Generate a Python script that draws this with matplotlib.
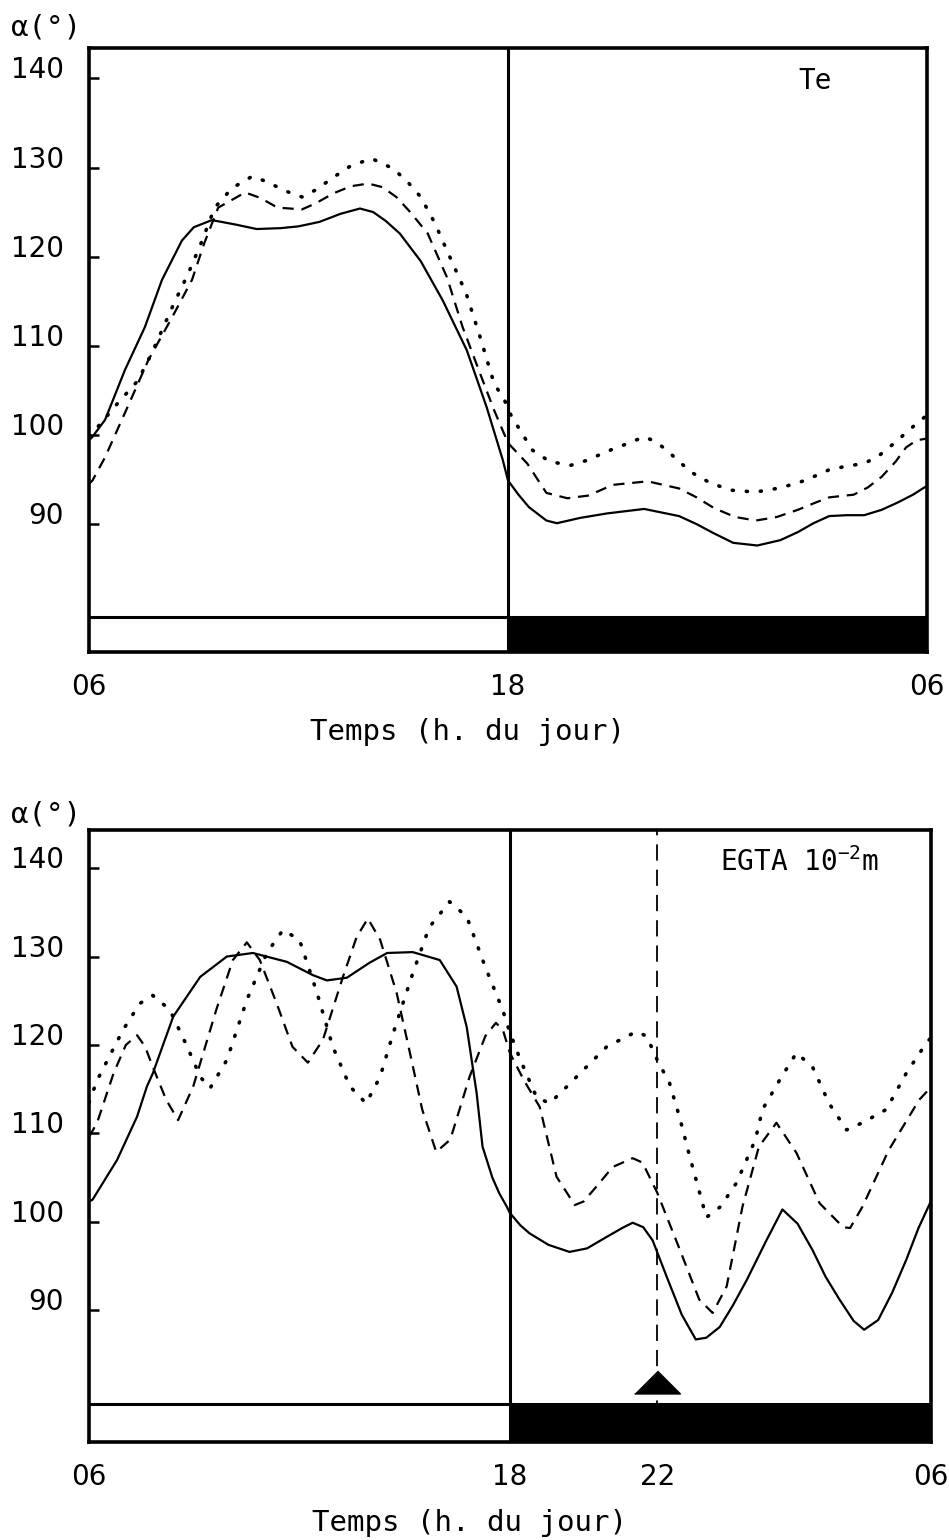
import matplotlib.pyplot as plt

# Panneau du haut : Te  (heures comptées depuis minuit, 06 -> 30 = 06 le lendemain)
te_solid_h = [6.0, 6.1, 6.46, 7.03, 7.6, 8.09, 8.66, 9.0, 9.52, 10.2, 10.8, 11.5, 12.0, 12.6, 13.2,
              13.76, 14.14, 14.5, 14.9, 15.5, 16.13, 16.82, 17.39, 17.85, 18.0, 18.3, 18.6, 19.1,
              19.4, 20.07, 20.84, 21.9, 22.9, 23.4, 23.88, 24.45, 25.14, 25.8, 26.3, 26.75, 27.2,
              27.7, 28.2, 28.7, 29.15, 29.6, 30.0]
te_solid_v = [99.4, 99.8, 101.7, 107.3, 112.1, 117.4, 121.8, 123.3, 124.1, 123.6, 123.1, 123.2,
              123.4, 123.9, 124.8, 125.4, 125.0, 124.0, 122.6, 119.5, 115.1, 109.5, 103.1, 97.2,
              94.9, 93.3, 91.9, 90.4, 90.1, 90.7, 91.2, 91.7, 90.9, 90.0, 89.0, 87.9, 87.6, 88.2,
              89.1, 90.1, 90.9, 91.0, 91.0, 91.6, 92.4, 93.3, 94.3]

te_dash_h = [6.0, 6.1, 6.46, 7.1, 7.7, 8.38, 8.95, 9.3, 9.7, 10.47, 10.9, 11.4, 12.1, 12.5, 13.0,
             13.5, 14.0, 14.4, 14.8, 15.2, 15.7, 16.25, 16.7, 17.2, 17.6, 18.0, 18.55, 19.1, 19.7,
             20.3, 21.0, 22.0, 22.9, 23.4, 23.9, 24.5, 25.1, 25.7, 26.3, 26.8, 27.2, 27.9, 28.3,
             28.7, 29.1, 29.4, 29.7, 30.0]
te_dash_v = [94.5, 94.9, 97.5, 103.1, 108.4, 113.2, 117.4, 121.5, 125.5, 127.2, 126.6, 125.5, 125.3,
             126.0, 127.1, 127.9, 128.2, 127.8, 126.7, 125.0, 122.6, 117.7, 112.1, 106.9, 102.8,
             99.1, 96.8, 93.5, 92.9, 93.2, 94.4, 94.8, 94.0, 93.0, 91.8, 90.8, 90.4, 90.8, 91.6,
             92.4, 93.0, 93.3, 94.1, 95.3, 97.0, 98.6, 99.4, 99.6]

te_dot_h = [6.0, 6.1, 6.83, 7.4, 7.8, 8.38, 8.84, 9.24, 9.6, 10.1, 10.67, 11.1, 11.6, 12.1, 12.5,
            13.0, 13.5, 14.1, 14.7, 15.1, 15.5, 15.9, 16.25, 16.8, 17.2, 17.6, 17.9, 18.06, 18.35,
            18.7, 19.2, 19.8, 20.3, 20.8, 21.4, 21.9, 22.2, 22.55, 22.9, 23.3, 23.8, 24.4, 25.1,
            25.7, 26.3, 26.8, 27.2, 27.7, 28.2, 28.6, 29.1, 29.5, 29.9, 30.0]
te_dot_v = [99.8, 100.2, 103.6, 106.1, 109.2, 114.3, 118.1, 121.8, 125.5, 127.7, 129.0, 128.4,
            127.4, 126.7, 127.5, 128.9, 130.2, 131.0, 129.9, 128.5, 126.7, 123.8, 120.7, 115.9,
            111.0, 105.8, 103.9, 102.4, 100.5, 98.3, 97.0, 96.6, 97.2, 98.1, 99.0, 99.8, 99.3,
            98.3, 97.0, 95.7, 94.6, 93.8, 93.6, 94.0, 94.6, 95.4, 96.1, 96.5, 96.8, 97.6, 99.2,
            100.6, 101.9, 102.2]

# Panneau du bas : EGTA 10-2 m
eg_solid_h = [6.0, 6.1, 6.8, 7.37, 7.65, 7.82, 8.4, 9.17, 9.93, 10.67, 11.64, 12.38, 12.78, 13.35,
              14.0, 14.5, 15.23, 16.0, 16.48, 16.77, 17.05, 17.22, 17.5, 17.7, 17.9, 18.0, 18.3,
              18.56, 19.1, 19.7, 20.2, 20.76, 21.2, 21.5, 21.8, 22.07, 22.47, 22.9, 23.3, 23.6,
              23.98, 24.35, 24.75, 25.3, 25.77, 26.2, 26.63, 27.0, 27.4, 27.8, 28.1, 28.5, 28.9,
              29.3, 29.65, 30.0]
eg_solid_v = [102.3, 102.5, 107.0, 111.9, 115.3, 116.8, 123.2, 127.7, 130.0, 130.4, 129.4, 127.9,
              127.3, 127.6, 129.3, 130.4, 130.5, 129.6, 126.6, 122.0, 114.6, 108.5, 105.0, 103.2,
              101.8, 101.0, 99.6, 98.7, 97.4, 96.6, 97.0, 98.3, 99.3, 99.9, 99.4, 97.9, 93.8,
              89.5, 86.7, 86.9, 88.1, 90.5, 93.4, 97.8, 101.4, 99.8, 96.8, 93.8, 91.2, 88.8, 87.8,
              88.9, 92.0, 95.7, 99.3, 102.3]

eg_dash_h = [6.0, 6.23, 6.7, 7.05, 7.37, 7.6, 7.82, 8.2, 8.54, 8.97, 9.63, 10.1, 10.5, 10.87, 11.35,
             11.8, 12.24, 12.67, 13.24, 13.63, 13.95, 14.3, 14.77, 15.15, 15.5, 15.9, 16.3, 16.85,
             17.3, 17.6, 17.8, 18.0, 18.4, 18.85, 19.33, 19.85, 20.1, 20.47, 20.93, 21.5, 21.78,
             22.2, 22.85, 23.4, 23.78, 24.18, 24.63, 25.1, 25.6, 26.17, 26.83, 27.5, 27.7, 28.05,
             28.8, 29.67, 30.0]
eg_dash_v = [109.6, 111.2, 116.8, 120.0, 121.1, 119.8, 117.5, 113.8, 111.5, 115.3, 124.0, 129.6,
             131.6, 129.6, 124.7, 119.8, 118.0, 120.6, 127.7, 132.2, 134.3, 131.9, 125.9, 119.1,
             112.7, 107.9, 109.3, 116.4, 121.0, 122.5, 121.7, 119.1, 116.0, 113.0, 105.1, 101.9,
             102.3, 104.0, 106.2, 107.2, 106.7, 103.3, 96.8, 91.2, 89.7, 92.7, 101.7, 108.5, 111.2,
             107.8, 102.1, 99.4, 99.3, 101.7, 108.1, 113.8, 115.2]

eg_dot_h = [6.0, 6.23, 6.97, 7.45, 7.82, 8.3, 8.8, 9.17, 9.45, 9.93, 10.5, 11.07, 11.53, 12.0, 12.5,
            12.95, 13.44, 13.9, 14.3, 14.67, 15.23, 15.7, 16.28, 16.77, 17.3, 17.8, 18.0, 18.3,
            18.76, 19.13, 19.5, 20.0, 20.76, 21.6, 21.9, 22.2, 22.55, 22.84, 23.1, 23.6, 24.0,
            24.46, 25.0, 25.2, 25.7, 26.17, 26.63, 27.1, 27.6, 28.05, 28.73, 29.3, 29.87, 30.0]
eg_dot_v = [113.5, 116.0, 121.7, 124.7, 125.6, 124.0, 119.8, 116.4, 115.1, 118.3, 125.1, 130.4,
            133.0, 131.9, 125.9, 119.8, 115.3, 113.4, 116.4, 121.3, 128.1, 133.3, 136.2, 134.5,
            128.8, 123.9, 121.4, 118.3, 114.1, 113.4, 114.8, 116.8, 119.8, 121.5, 121.0, 118.3,
            115.7, 111.8, 107.8, 100.5, 101.7, 104.4, 109.3, 112.7, 116.1, 119.1, 117.5, 113.4,
            110.4, 111.2, 112.7, 116.8, 120.2, 120.8]

yticks = [90, 100, 110, 120, 130, 140]
event_h = 22.2       # injection (flèche)
marker_y = 81.9

solid = dict(ls='-', lw=1.6, solid_joinstyle='round')
dashed = dict(ls=(0, (5, 3.5)), lw=1.6, dash_joinstyle='round')
dotted = dict(ls=(0, (0.3, 3.6)), lw=2.6, dash_capstyle='round')

plt.rcParams['font.family'] = ['DejaVu Sans']
fig = plt.figure(figsize=(9.49, 15.4), dpi=100)
ax1 = fig.add_axes([0.0938, 0.5766, 0.883, 0.3922])
ax2 = fig.add_axes([0.0938, 0.0636, 0.887, 0.3974])


def panel(ax, curves, ylim, bar_top, xticks, xticklabels, title, title_pos):
    ax.set_xlim(6, 30)
    ax.set_ylim(*ylim)
    for h, v, st in curves:
        ax.plot(h, v, color='black', **st)
    ax.axvline(18, color='black', lw=2.2)
    ax.axhline(bar_top, color='black', lw=2.2, zorder=4)
    ax.fill_between([18, 30], ylim[0], bar_top, color='black', zorder=4)
    for s in ax.spines.values():
        s.set_linewidth(2.6)
    ax.set_yticks(yticks, [str(t) for t in yticks])
    ax.tick_params(axis='y', direction='in', length=7, width=1.8, pad=18, labelsize=20)
    for lab in ax.get_yticklabels():
        lab.set_va('baseline')
    ax.set_xticks(xticks, xticklabels)
    ax.tick_params(axis='x', length=0, pad=15, labelsize=20)
    ax.set_xlabel('Temps (h. du jour)', family='DejaVu Sans Mono', fontsize=21)
    ax.xaxis.set_label_coords(0.452, -0.11)
    ax.text(*title_pos, title, transform=ax.transAxes, ha='center', va='center',
            family='DejaVu Sans Mono', fontsize=20)


panel(ax1, [(te_solid_h, te_solid_v, solid), (te_dash_h, te_dash_v, dashed),
            (te_dot_h, te_dot_v, dotted)],
      (75.65, 143.4), 79.6, [6, 18, 30], ['06', '18', '06'], 'Te', (0.866, 0.945))

panel(ax2, [(eg_solid_h, eg_solid_v, solid), (eg_dash_h, eg_dash_v, dashed),
            (eg_dot_h, eg_dot_v, dotted)],
      (75.1, 144.3), 79.4, [6, 18, event_h, 30], ['06', '18', '22', '06'],
      r'EGTA 10$^{\mathregular{-2}}$m', (0.844, 0.948))

# trait pointillé + triangle de l'injection à 22 h
ax2.axvline(event_h, color='black', lw=1.3, ls=(0, (9, 5)), zorder=1)
ax2.plot([event_h], [marker_y], marker=[(-1, -0.5), (1, -0.5), (0, 0.5)], ms=33,
         color='black', zorder=5)

fig.text(0.012, 0.982, 'α(°)', family='DejaVu Sans Mono', fontsize=21, va='center')
fig.text(0.012, 0.471, 'α(°)', family='DejaVu Sans Mono', fontsize=21, va='center')

plt.savefig('out.png', dpi=100)
